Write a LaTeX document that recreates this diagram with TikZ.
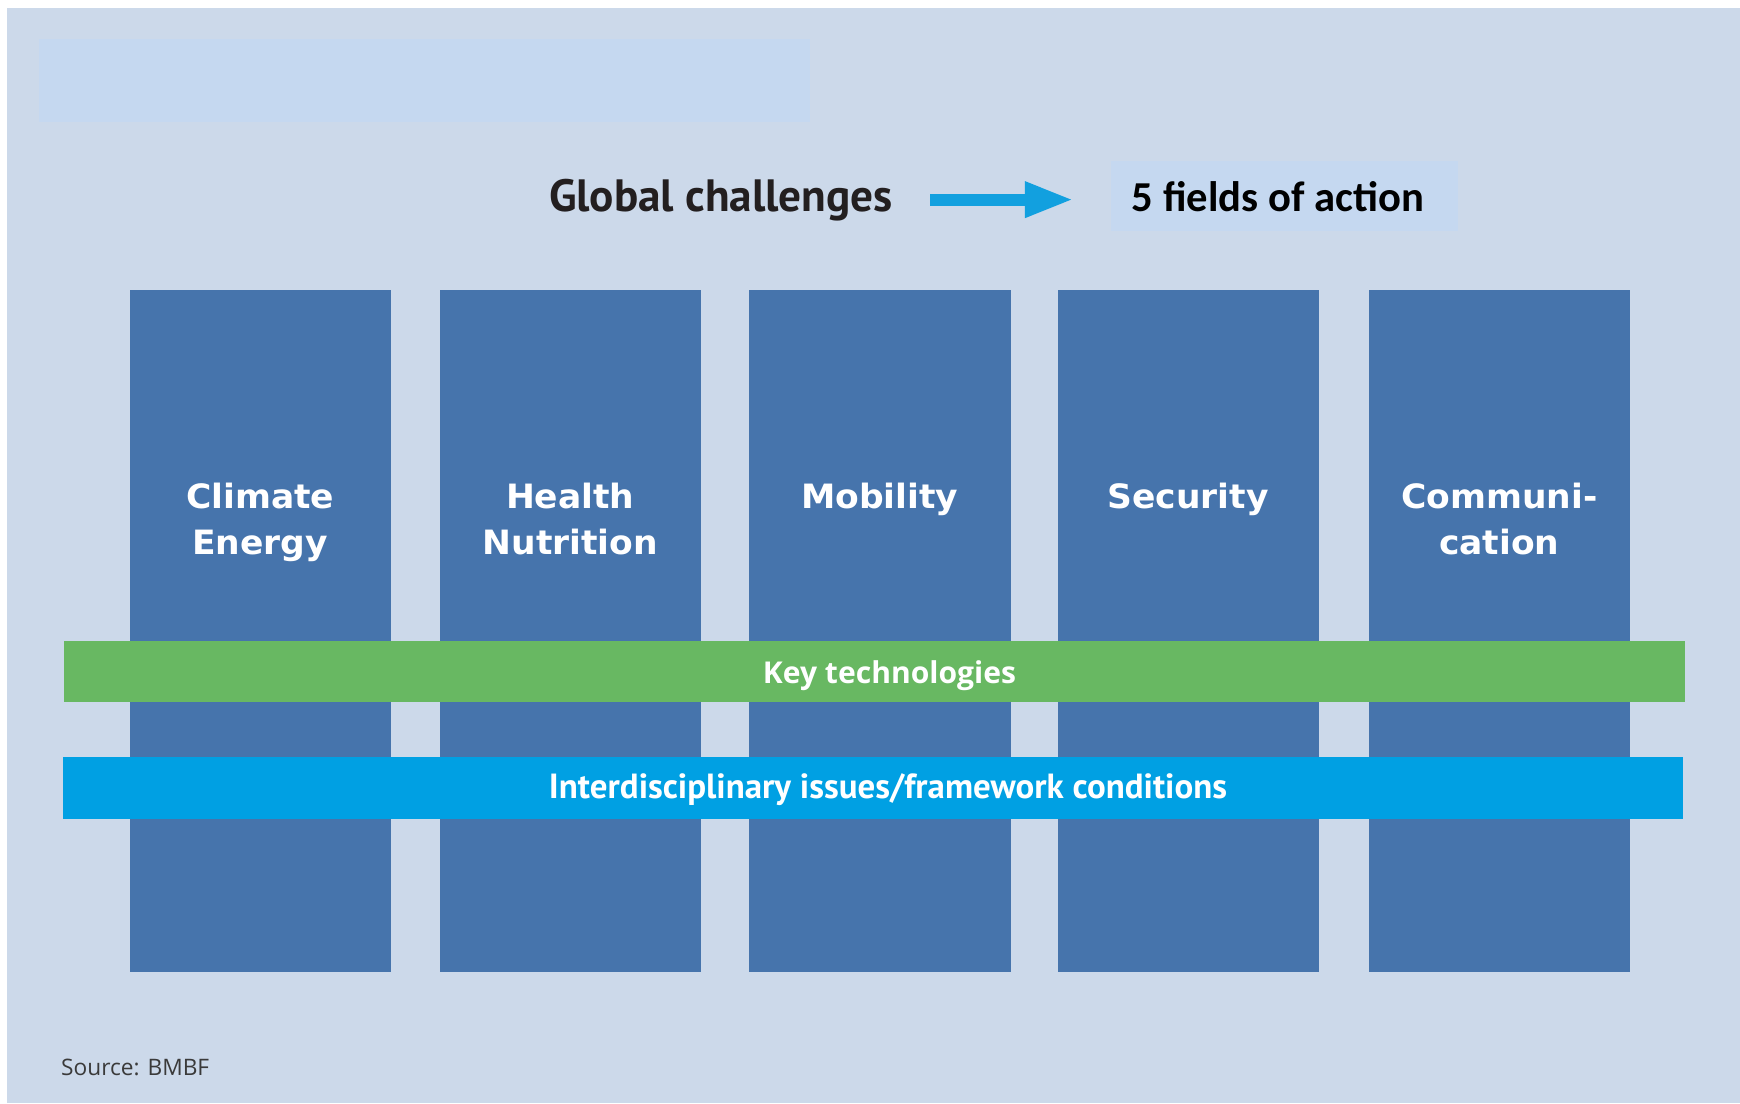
\documentclass[tikz,border=0pt]{standalone}
\usepackage{fontspec}
\usetikzlibrary{arrows.meta}
\setmainfont{Open Sans}
\newfontfamily\colfont[FakeStretch=1.03]{DejaVu Sans}
\newfontfamily\hdfont{PT Sans}
\newfontfamily\calfont{Carlito}
\definecolor{bgc}{HTML}{CCD9EA}
\definecolor{lightc}{HTML}{C5D8F0}
\definecolor{colc}{HTML}{4674AC}
\definecolor{greenc}{HTML}{68B862}
\definecolor{bluec}{HTML}{00A0E3}
\definecolor{arrowc}{HTML}{12A0DF}
\definecolor{darkc}{HTML}{231F20}
\definecolor{srcc}{HTML}{3A3A3A}
\tikzset{
  colbox/.style={fill=colc, draw=none, inner sep=0pt, minimum width=261.5pt, minimum height=682pt},
  lbl/.style={inner sep=0pt, text=white, align=center, font=\colfont\bfseries\fontsize{33.5}{46.5}\selectfont},
  barbox/.style={draw=none, inner sep=0pt, minimum height=61.5pt},
  bartext/.style={inner sep=0pt, text=white, anchor=base},
  arr/.style={draw=arrowc, line width=12pt, -{Triangle[length=49pt,width=33pt]}}
}
\begin{document}
\begin{tikzpicture}[x=1pt,y=-1pt]
\useasboundingbox (0,0) rectangle (1740,1103);
\fill[white] (0,0) rectangle (1740,1103);
\fill[bgc] (7,8) rectangle (1740,1103);
\fill[lightc] (39,39) rectangle (810,122);
% header
\node[fill=lightc, inner sep=0pt, minimum width=347pt, minimum height=70pt] (fabox) at (1284.5,196) {};
\node[anchor=base, inner sep=0pt, text=black] (fa) at (1278,211) {\resizebox{292pt}{!}{\calfont\bfseries 5 fields of action}};
\node[anchor=base, inner sep=0pt, text=darkc] (gc) at (721,211) {\resizebox{344pt}{!}{\hdfont\bfseries Global challenges}};
\draw[arr, shorten <=37pt, shorten >=37pt] (gc.east) -- (gc.east -| fabox.west);
% columns
\node[colbox] (c1) at (260.25,631) {};
\node[colbox] (c2) at (570.25,631) {};
\node[colbox] (c3) at (879.75,631) {};
\node[colbox] (c4) at (1188.25,631) {};
\node[colbox] (c5) at (1499.25,631) {};
\node[lbl, anchor=base] (l1) at (260.25,554.5) {Climate\\Energy};
\node[lbl, anchor=base] (l2) at (570.25,554.5) {Health\\Nutrition};
\node[lbl, anchor=base] (l3) at (879.75,508) {Mobility};
\node[lbl, anchor=base] (l4) at (1188.25,508) {Security};
\node[lbl, anchor=base] (l5) at (1499.25,554.5) {Communi-\\cation};
% bars
\node[barbox, fill=greenc, minimum width=1621pt] (kt) at (874.5,671.5) {};
\node[bartext] (ktl) at (889.5,683) {\resizebox{253pt}{!}{\bfseries Key technologies}};
\node[barbox, fill=bluec, minimum width=1620pt] (ic) at (873,788) {};
\node[bartext] (icl) at (888,798) {\resizebox{678pt}{!}{\hdfont\bfseries Interdisciplinary issues/framework conditions}};
% source
\node[anchor=base west, inner sep=0pt, text=srcc] (src) at (61,1075) {\resizebox{148pt}{!}{Source: BMBF}};
\end{tikzpicture}
\end{document}
